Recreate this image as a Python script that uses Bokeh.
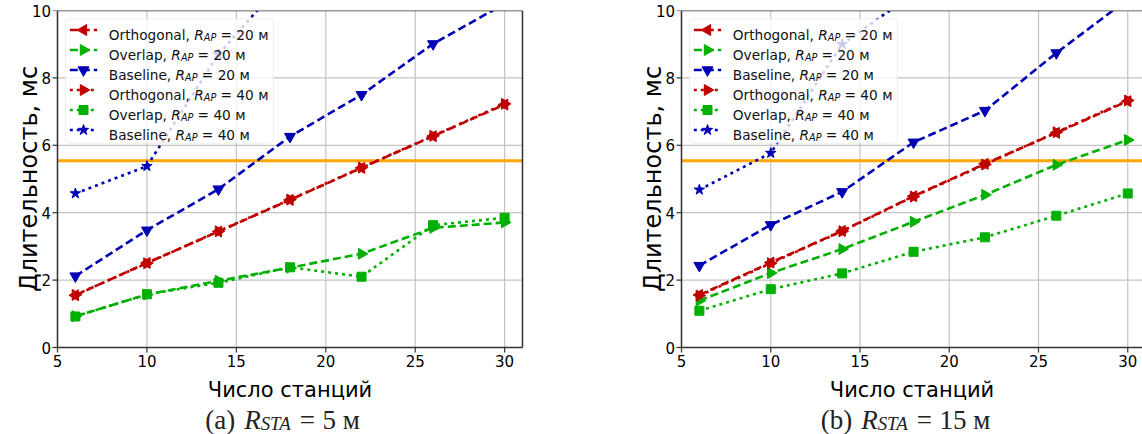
import math
from bokeh.plotting import figure
from bokeh.layouts import row
from bokeh.models import BoxAnnotation, Label, Range1d
from bokeh.core.properties import value
from bokeh.embed import file_html
from bokeh.resources import INLINE

nan = float("nan")

# ---------------- data ----------------
stations = [6, 10, 14, 18, 22, 26, 30]
x_ticks = [5, 10, 15, 20, 25, 30]
y_ticks = [0, 2, 4, 6, 8, 10]
x_lim = [5, 31]
y_lim = [0, 10]
threshold_ms = 5.54

# panel (a) R_STA = 5 m
a_orth20 = [1.55, 2.51, 3.44, 4.38, 5.33, 6.27, 7.21]
a_over20 = [0.93, 1.57, 1.98, 2.37, 2.78, 3.55, 3.71]
a_base20 = [2.12, 3.48, 4.70, 6.26, 7.50, 9.01, 10.20]
a_orth40 = [1.56, 2.50, 3.45, 4.39, 5.34, 6.28, 7.23]
a_over40 = [0.92, 1.58, 1.92, 2.38, 2.10, 3.63, 3.85]
a_base40 = [4.57, 5.38, 8.70, 11.10, nan, nan, nan]

# panel (b) R_STA = 15 m
b_orth20 = [1.56, 2.52, 3.46, 4.49, 5.45, 6.37, 7.31]
b_over20 = [1.39, 2.21, 2.92, 3.73, 4.53, 5.42, 6.16]
b_base20 = [2.43, 3.64, 4.62, 6.09, 7.03, 8.74, 10.33]
b_orth40 = [1.54, 2.50, 3.45, 4.48, 5.43, 6.39, 7.33]
b_over40 = [1.09, 1.73, 2.20, 2.84, 3.27, 3.91, 4.57]
b_base40 = [4.68, 5.77, 9.00, 10.50, nan, nan, nan]

series_names = ["Orthogonal", "Overlap", "Baseline", "Orthogonal", "Overlap", "Baseline"]
series_rap = ["20", "20", "20", "40", "40", "40"]
panel_letters = ["a", "b"]
panel_rsta = ["5", "15"]
x_label = "Число станций"
y_label = "Длительность, мс"
unit = "м"

# ---------------- styles ----------------
RED, GREEN, BLUE = "#c00000", "#00b000", "#0000b4"
DASH, DOT = "8 4", "3 4"
styles = [
    dict(color=RED, dash=DASH, marker="triangle", angle=math.pi / 2, size=11),
    dict(color=GREEN, dash=DASH, marker="triangle", angle=-math.pi / 2, size=11),
    dict(color=BLUE, dash=DASH, marker="inverted_triangle", angle=0.0, size=11),
    dict(color=RED, dash=DOT, marker="triangle", angle=-math.pi / 2, size=11),
    dict(color=GREEN, dash=DOT, marker="square", angle=0.0, size=9),
    dict(color=BLUE, dash=DOT, marker="star", angle=0.0, size=11),
]
LW = 2.6
FRAME = "#333333"
GRID = "#c4c4c4"
SANS = "DejaVu Sans"
SERIF = "Liberation Serif"

DV = {' ': 651, ',': 651, '=': 1716, '0': 1303, '1': 1303, '2': 1303, '4': 1303, '5': 1303,
      'A': 1401, 'B': 1405, 'O': 1612, 'P': 1235, 'R': 1423,
      'a': 1255, 'e': 1260, 'g': 1300, 'h': 1298, 'i': 569, 'l': 569, 'n': 1298, 'o': 1253,
      'p': 1300, 'r': 842, 's': 1067, 't': 803, 'v': 1212, 'м': 1540}
LSR = {'(': 682, ')': 682, 'a': 909, 'b': 1024, ' ': 512, '=': 1155, '1': 1024, '5': 1024, 'м': 1300}
LSI = {'R': 1251, 'S': 1024, 'T': 1139, 'A': 1251}


def width(text, table, size):
    return sum(table.get(c, 1200) for c in text) / 2048.0 * size


HEIGHT = 434
FRAME_TOP = 10        # pixel row of y = 10
PLOT_BOTTOM = 347     # pixel row of y = 0
SY = (PLOT_BOTTOM - FRAME_TOP) / 10.0


def make_panel(series, fig_width, plot_left, plot_w, x_end, right_border,
               letter, rsta, cap_center_rel):
    sx = plot_w / (x_end - x_lim[0])

    def xd(pxr):          # pixel offset from the plot's left edge -> data x
        return x_lim[0] + pxr / sx

    def yd(py):           # absolute pixel row -> data y
        return y_lim[1] - (py - FRAME_TOP) / SY

    x0r, x1r = xd(-plot_left), xd(fig_width - plot_left)
    y0r, y1r = yd(HEIGHT), yd(0)
    p = figure(width=fig_width, height=HEIGHT, output_backend="svg", toolbar_location=None,
               title=None, x_axis_location=None, y_axis_location=None,
               x_range=Range1d(x0r, x1r), y_range=Range1d(y0r, y1r),
               min_border=0, min_border_left=0, min_border_right=0,
               min_border_top=0, min_border_bottom=0,
               background_fill_color="white", border_fill_color="white")
    p.outline_line_color = None
    p.grid.visible = False

    nx, ny = len(x_ticks), len(y_ticks)
    # grid
    p.segment(x0=x_ticks, y0=[y_lim[0]] * nx, x1=x_ticks, y1=[y_lim[1]] * nx,
              line_color=GRID, line_width=1.2)
    p.segment(x0=[x_lim[0]] * ny, y0=y_ticks, x1=[x_end] * ny, y1=y_ticks,
              line_color=GRID, line_width=1.2)
    # threshold line
    p.segment(x0=[x_lim[0]], y0=[threshold_ms], x1=[x_end], y1=[threshold_ms],
              line_color="#ffa500", line_width=3)

    for vals, st in zip(series, styles):
        p.line(stations, vals, line_color=st["color"], line_width=LW, line_dash=st["dash"])
        p.scatter(stations, vals, marker=st["marker"], angle=st["angle"], size=st["size"],
                  fill_color=st["color"], line_color=st["color"])

    # white mask above the plot area (hides what leaves the top of the axes)
    mask = p.quad(left=[x0r], right=[x1r], bottom=[y_lim[1]], top=[y1r + 1],
                  fill_color="white", fill_alpha=1.0, line_color=None)
    mask.level = "overlay"
    p.add_layout(BoxAnnotation(left=x0r, right=x1r, bottom=y_lim[1], top=y1r + 1,
                               fill_color="white", fill_alpha=1.0, line_color=None,
                               level="overlay"))

    # frame lines
    fx0 = [x_lim[0], x_lim[0], x_lim[0]]
    fy0 = [y_lim[0], y_lim[1], y_lim[0]]
    fx1 = [x_end, x_end, x_lim[0]]
    fy1 = [y_lim[0], y_lim[1], y_lim[1]]
    if right_border:
        fx0.append(x_end); fy0.append(y_lim[0]); fx1.append(x_end); fy1.append(y_lim[1])
    fr = p.segment(x0=fx0, y0=fy0, x1=fx1, y1=fy1, line_color=FRAME, line_width=1.5)
    fr.level = "overlay"

    # ticks
    tk1 = p.segment(x0=x_ticks, y0=[y_lim[0]] * nx, x1=x_ticks, y1=[yd(PLOT_BOTTOM + 5)] * nx,
                    line_color=FRAME, line_width=1.2)
    tk2 = p.segment(x0=[x_lim[0]] * ny, y0=y_ticks, x1=[xd(-5)] * ny, y1=y_ticks,
                    line_color=FRAME, line_width=1.2)
    tk1.level = "overlay"
    tk2.level = "overlay"

    # tick labels
    tl1 = p.text(x=x_ticks, y=[yd(PLOT_BOTTOM + 7)] * nx, text=[str(t) for t in x_ticks],
                 text_font=value(SANS), text_font_size="15px", text_color="black",
                 text_align="center", text_baseline="top")
    tl1.level = "overlay"
    for t in y_ticks:   # drawn as annotations, after the mask, so "10" stays whole
        p.add_layout(Label(x=xd(-6.5), y=t, text=str(t), text_font=SANS,
                           text_font_size="15px", text_color="black",
                           text_align="right", text_baseline="middle", level="overlay"))

    # axis titles
    p.text(x=[(x_lim[0] + x_end) / 2], y=[yd(389)], text=[x_label],
           text_font=value(SANS), text_font_size="21px", text_color="black",
           text_align="center", text_baseline="alphabetic")
    p.text(x=[xd(-29)], y=[(y_lim[0] + y_lim[1]) / 2], text=[y_label], angle=math.pi / 2,
           text_font=value(SANS), text_font_size="24px", text_color="black",
           text_align="center", text_baseline="alphabetic")

    # legend box
    box = BoxAnnotation(left=xd(8), right=xd(216), top=yd(18.3), bottom=yd(142.7),
                        fill_color="white", fill_alpha=0.8, line_color="#cccccc",
                        line_width=1, border_radius=4)
    p.add_layout(box)
    space = DV[' '] / 2048.0
    fs = 13.7
    for i, (name, rap, st) in enumerate(zip(series_names, series_rap, styles)):
        py = 29.5 + 20 * i
        r1 = p.line([xd(12.3), xd(39.7)], [yd(py), yd(py)], line_color=st["color"],
                    line_width=LW, line_dash=st["dash"])
        r1.level = "overlay"
        r2 = p.scatter([xd(26)], [yd(py)], marker=st["marker"], angle=st["angle"], size=st["size"],
                       fill_color=st["color"], line_color=st["color"])
        r2.level = "overlay"
        segs = [(name + ",", False, 1.0, 0.0, 0.0),
                ("R", True, 1.0, 0.0, space),
                ("AP", True, 0.7, 2.5, 0.0),
                ("= " + rap + " " + unit, False, 1.0, 0.0, space)]
        xpos = 51.3
        for text, ital, sc, dy, gap in segs:
            xpos += gap * fs
            p.add_layout(Label(x=xd(xpos), y=yd(py + 5 + dy), text=text,
                               text_font=SANS, text_font_size=f"{fs * sc:.1f}px",
                               text_font_style="italic" if ital else "normal",
                               text_color="#111111", text_baseline="alphabetic",
                               text_align="left", level="overlay"))
            xpos += width(text, DV, fs * sc)

    # caption
    cs = 27.0
    cap_base = 419
    csegs = [("(" + letter + ")", False, 1.0, 0.0, 0.0),
             ("R", True, 1.0, 0.0, 0.333),
             ("STA", True, 0.7, 4.0, 0.0),
             ("=", False, 1.0, 0.0, 0.278),
             (rsta + " " + unit, False, 1.0, 0.0, 0.278)]
    total = 0.0
    for text, ital, sc, dy, gap in csegs:
        total += gap * cs + width(text, LSI if ital else LSR, cs * sc)
    xpos = cap_center_rel - total / 2
    for text, ital, sc, dy, gap in csegs:
        xpos += gap * cs
        p.text(x=[xd(xpos)], y=[yd(cap_base + dy)], text=[text], text_font=value(SERIF),
               text_font_size=f"{cs * sc:.1f}px",
               text_font_style="italic" if ital else "normal",
               text_color="#222222", text_baseline="alphabetic", text_align="left")
        xpos += width(text, LSI if ital else LSR, cs * sc)
    return p


left = make_panel([a_orth20, a_over20, a_base20, a_orth40, a_over40, a_base40],
                  600, 57, 465, x_lim[1], True, panel_letters[0], panel_rsta[0], 282 - 57)
right = make_panel([b_orth20, b_over20, b_base20, b_orth40, b_over40, b_base40],
                   542, 81, 461, x_lim[0] + 461 / 17.85, False, panel_letters[1], panel_rsta[1],
                   905 - 681)

layout = row(left, right)
open("out.html", "w").write(file_html(layout, INLINE))
